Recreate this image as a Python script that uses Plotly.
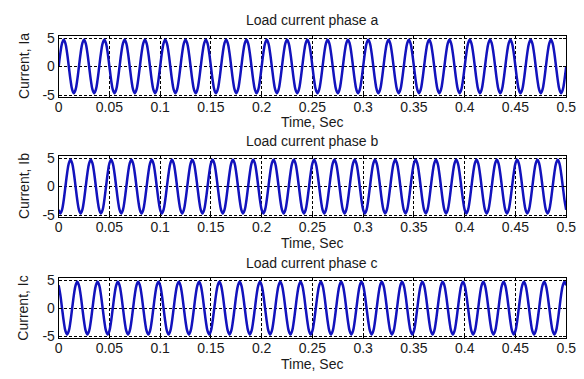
import plotly.graph_objects as go

# ---- data ----
# one 50 Hz cycle (20 ms) sampled every 30 degrees (1/600 s), read from each panel,
# starting at t = 0; the waveform repeats for 25 cycles over 0 .. 0.5 s
cycle_a = [0.0, 2.35, 4.07, 4.7, 4.07, 2.35, 0.0, -2.35, -4.07, -4.7, -4.07, -2.35]
cycle_b = [-4.07, -4.7, -4.07, -2.35, 0.0, 2.35, 4.07, 4.7, 4.07, 2.35, 0.0, -2.35]
cycle_c = [4.07, 2.35, 0.0, -2.35, -4.07, -4.7, -4.07, -2.35, 0.0, 2.35, 4.07, 4.7]
n_cycles = 25
t_step = 0.02 / 12

titles = ["Load current phase a", "Load current phase b", "Load current phase c"]
ylabels = ["Current, Ia", "Current, Ib", "Current, Ic"]
x_ticks = [0, 0.05, 0.1, 0.15, 0.2, 0.25, 0.3, 0.35, 0.4, 0.45, 0.5]
x_tick_text = ["0", "0.05", "0.1", "0.15", "0.2", "0.25", "0.3", "0.35", "0.4", "0.45", "0.5"]
y_ticks = [-5, 0, 5]
y_tick_text = ["-5", "0", "5"]


def series(cycle):
    vals = cycle * n_cycles + [cycle[0]]
    t = [i * t_step for i in range(len(vals))]
    return t, vals


W, H = 584, 379
x0, x1 = 56, 576
panels = [(31, 94), (155, 218), (281, 343)]
title_y = [14, 139, 265]
xlab_y = [120, 245, 370]

fig = go.Figure()
line_col = "#1212bc"
for i, cyc in enumerate([cycle_a, cycle_b, cycle_c]):
    t, v = series(cyc)
    fig.add_trace(go.Scatter(x=t, y=v, mode="lines",
                             line=dict(color=line_col, width=2.5, shape="spline", smoothing=1.0),
                             xaxis="x" if i == 0 else f"x{i+1}",
                             yaxis="y" if i == 0 else f"y{i+1}",
                             showlegend=False, hoverinfo="skip"))

font = dict(family="Liberation Sans, Arial, sans-serif", color="#1a1a1a")
layout = dict(width=W, height=H, margin=dict(l=0, r=0, t=0, b=0),
              paper_bgcolor="white", plot_bgcolor="white", showlegend=False,
              font=dict(size=14, **font))
annotations = []
for i, (top, bot) in enumerate(panels):
    xs = "" if i == 0 else str(i + 1)
    dom_y = [1 - bot / H, 1 - top / H]
    common = dict(showgrid=True, gridcolor="#000000", gridwidth=1, griddash="3px,2px",
                  showline=True, linecolor="black", linewidth=1, mirror="ticks",
                  ticks="inside", ticklen=3, tickcolor="black",
                  zeroline=False, tickfont=dict(size=14, **font), fixedrange=True,
                  ticklabeloverflow="allow")
    layout["xaxis" + xs] = dict(domain=[x0 / W, x1 / W], range=[0, 0.5], anchor="y" + xs,
                                tickvals=x_ticks, ticktext=x_tick_text,
                                ticklabelstandoff=-3, **common)
    layout["yaxis" + xs] = dict(domain=dom_y, range=[-5.35, 5.35], anchor="x" + xs,
                                tickvals=y_ticks, ticktext=y_tick_text, **common)
    annotations.append(dict(text=titles[i], x=(x0 + x1) / 2 / W, y=1 - title_y[i] / H,
                            xref="paper", yref="paper", showarrow=False,
                            xanchor="center", yanchor="middle", font=dict(size=14, **font)))
    annotations.append(dict(text="Time, Sec", x=(x0 + x1) / 2 / W, y=1 - xlab_y[i] / H,
                            xref="paper", yref="paper", showarrow=False,
                            xanchor="center", yanchor="middle", font=dict(size=14, **font)))
    annotations.append(dict(text=ylabels[i], x=20 / W, y=1 - (top + bot) / 2 / H,
                            xref="paper", yref="paper", showarrow=False, textangle=-90,
                            xanchor="center", yanchor="middle", font=dict(size=14, **font)))
layout["annotations"] = annotations
fig.update_layout(**layout)
fig.write_html("out.html")
